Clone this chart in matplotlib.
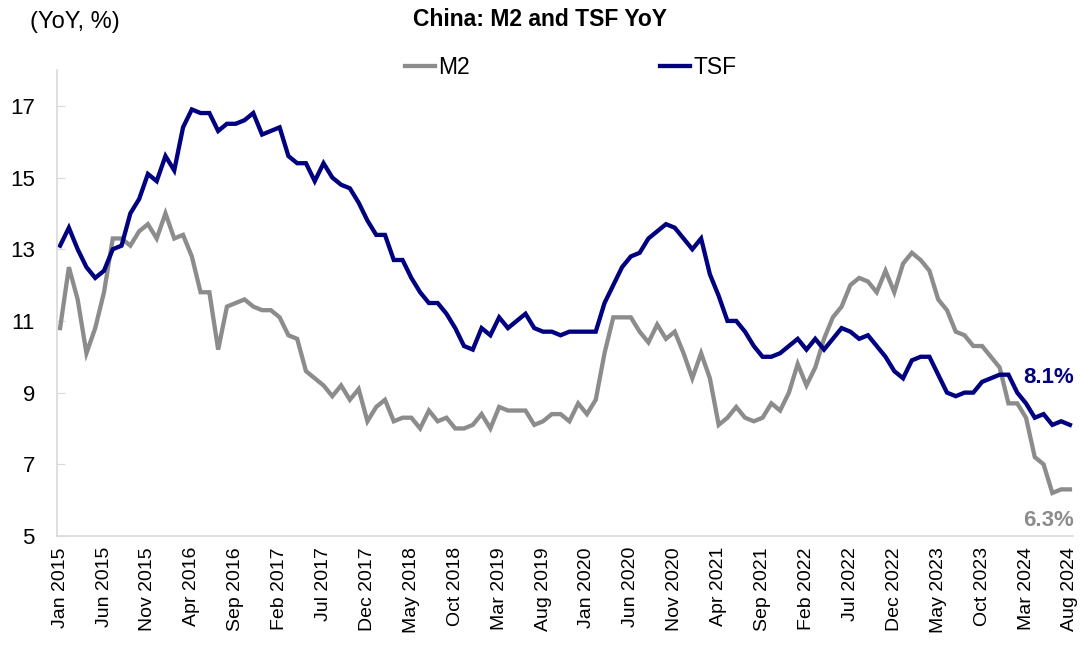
import numpy as np
import pandas as pd
import matplotlib
matplotlib.use('Agg')
import matplotlib.pyplot as plt

plt.rcParams['font.family'] = ['Liberation Sans', 'DejaVu Sans']

months = pd.date_range('2015-01-01', '2024-08-01', freq='MS')

m2 = [
    10.8, 12.5, 11.6, 10.1, 10.8, 11.8, 13.3, 13.3, 13.1, 13.5, 13.7, 13.3,  # 2015
    14.0, 13.3, 13.4, 12.8, 11.8, 11.8, 10.2, 11.4, 11.5, 11.6, 11.4, 11.3,  # 2016
    11.3, 11.1, 10.6, 10.5, 9.6, 9.4, 9.2, 8.9, 9.2, 8.8, 9.1, 8.2,          # 2017
    8.6, 8.8, 8.2, 8.3, 8.3, 8.0, 8.5, 8.2, 8.3, 8.0, 8.0, 8.1,              # 2018
    8.4, 8.0, 8.6, 8.5, 8.5, 8.5, 8.1, 8.2, 8.4, 8.4, 8.2, 8.7,              # 2019
    8.4, 8.8, 10.1, 11.1, 11.1, 11.1, 10.7, 10.4, 10.9, 10.5, 10.7, 10.1,    # 2020
    9.4, 10.1, 9.4, 8.1, 8.3, 8.6, 8.3, 8.2, 8.3, 8.7, 8.5, 9.0,             # 2021
    9.8, 9.2, 9.7, 10.5, 11.1, 11.4, 12.0, 12.2, 12.1, 11.8, 12.4, 11.8,     # 2022
    12.6, 12.9, 12.7, 12.4, 11.6, 11.3, 10.7, 10.6, 10.3, 10.3, 10.0, 9.7,   # 2023
    8.7, 8.7, 8.3, 7.2, 7.0, 6.2, 6.3, 6.3,                                  # 2024
]

tsf = [
    13.1, 13.6, 13.0, 12.5, 12.2, 12.4, 13.0, 13.1, 14.0, 14.4, 15.1, 14.9,  # 2015
    15.6, 15.2, 16.4, 16.9, 16.8, 16.8, 16.3, 16.5, 16.5, 16.6, 16.8, 16.2,  # 2016
    16.3, 16.4, 15.6, 15.4, 15.4, 14.9, 15.4, 15.0, 14.8, 14.7, 14.3, 13.8,  # 2017
    13.4, 13.4, 12.7, 12.7, 12.2, 11.8, 11.5, 11.5, 11.2, 10.8, 10.3, 10.2,  # 2018
    10.8, 10.6, 11.1, 10.8, 11.0, 11.2, 10.8, 10.7, 10.7, 10.6, 10.7, 10.7,  # 2019
    10.7, 10.7, 11.5, 12.0, 12.5, 12.8, 12.9, 13.3, 13.5, 13.7, 13.6, 13.3,  # 2020
    13.0, 13.3, 12.3, 11.7, 11.0, 11.0, 10.7, 10.3, 10.0, 10.0, 10.1, 10.3,  # 2021
    10.5, 10.2, 10.5, 10.2, 10.5, 10.8, 10.7, 10.5, 10.6, 10.3, 10.0, 9.6,   # 2022
    9.4, 9.9, 10.0, 10.0, 9.5, 9.0, 8.9, 9.0, 9.0, 9.3, 9.4, 9.5,            # 2023
    9.5, 9.0, 8.7, 8.3, 8.4, 8.1, 8.2, 8.1,                                  # 2024
]

labels = [d.strftime('%b %Y') for d in months]
x = np.arange(len(months))

grey = '#8c8c8c'
navy = '#000080'
axis_grey = '#d9d9d9'

fig = plt.figure(figsize=(10.8, 6.6), dpi=100)
ax = fig.add_axes([0.0528, 0.1879, 0.9407, 0.706])

ax.plot(x, m2, color=grey, lw=3.1, label='M2', solid_joinstyle='miter')
ax.plot(x, tsf, color=navy, lw=3.1, label='TSF', solid_joinstyle='miter')

ax.set_xlim(-0.35, len(x) - 1 + 0.35)
ax.set_ylim(5, 18)
ax.set_yticks(range(5, 18, 2))
ax.set_xticks(x[::5])
ax.set_xticklabels(labels[::5], rotation=90)

for side in ('top', 'right'):
    ax.spines[side].set_visible(False)
for side in ('left', 'bottom'):
    ax.spines[side].set_color(axis_grey)
    ax.spines[side].set_linewidth(1.2)

ax.tick_params(axis='y', direction='in', length=6, color=axis_grey,
               labelsize=16, pad=16)
ax.tick_params(axis='x', length=0, labelsize=14, pad=8)

# end-of-series labels
ax.text(len(x) - 1 + 0.5, 9.41, f'{tsf[-1]:.1f}%', color=navy, fontsize=16,
        fontweight='bold', ha='right', va='center', clip_on=False)
ax.text(len(x) - 1 + 0.5, 5.42, f'{m2[-1]:.1f}%', color=grey, fontsize=16,
        fontweight='bold', ha='right', va='center', clip_on=False)

fig.text(0.5, 1 - 19 / 660, 'China: M2 and TSF YoY', ha='center', va='center',
         fontsize=16.5, fontweight='bold')
fig.text(30 / 1080, 1 - 22 / 660, '(YoY, %)', ha='left', va='center', fontsize=17)

fig.legend(loc='center', bbox_to_anchor=(571 / 1080, 1 - 68 / 660), ncol=2,
           frameon=False, fontsize=16.5, handlelength=1.3, handletextpad=0.15,
           columnspacing=8.3)

fig.savefig('out.png', dpi=100)
